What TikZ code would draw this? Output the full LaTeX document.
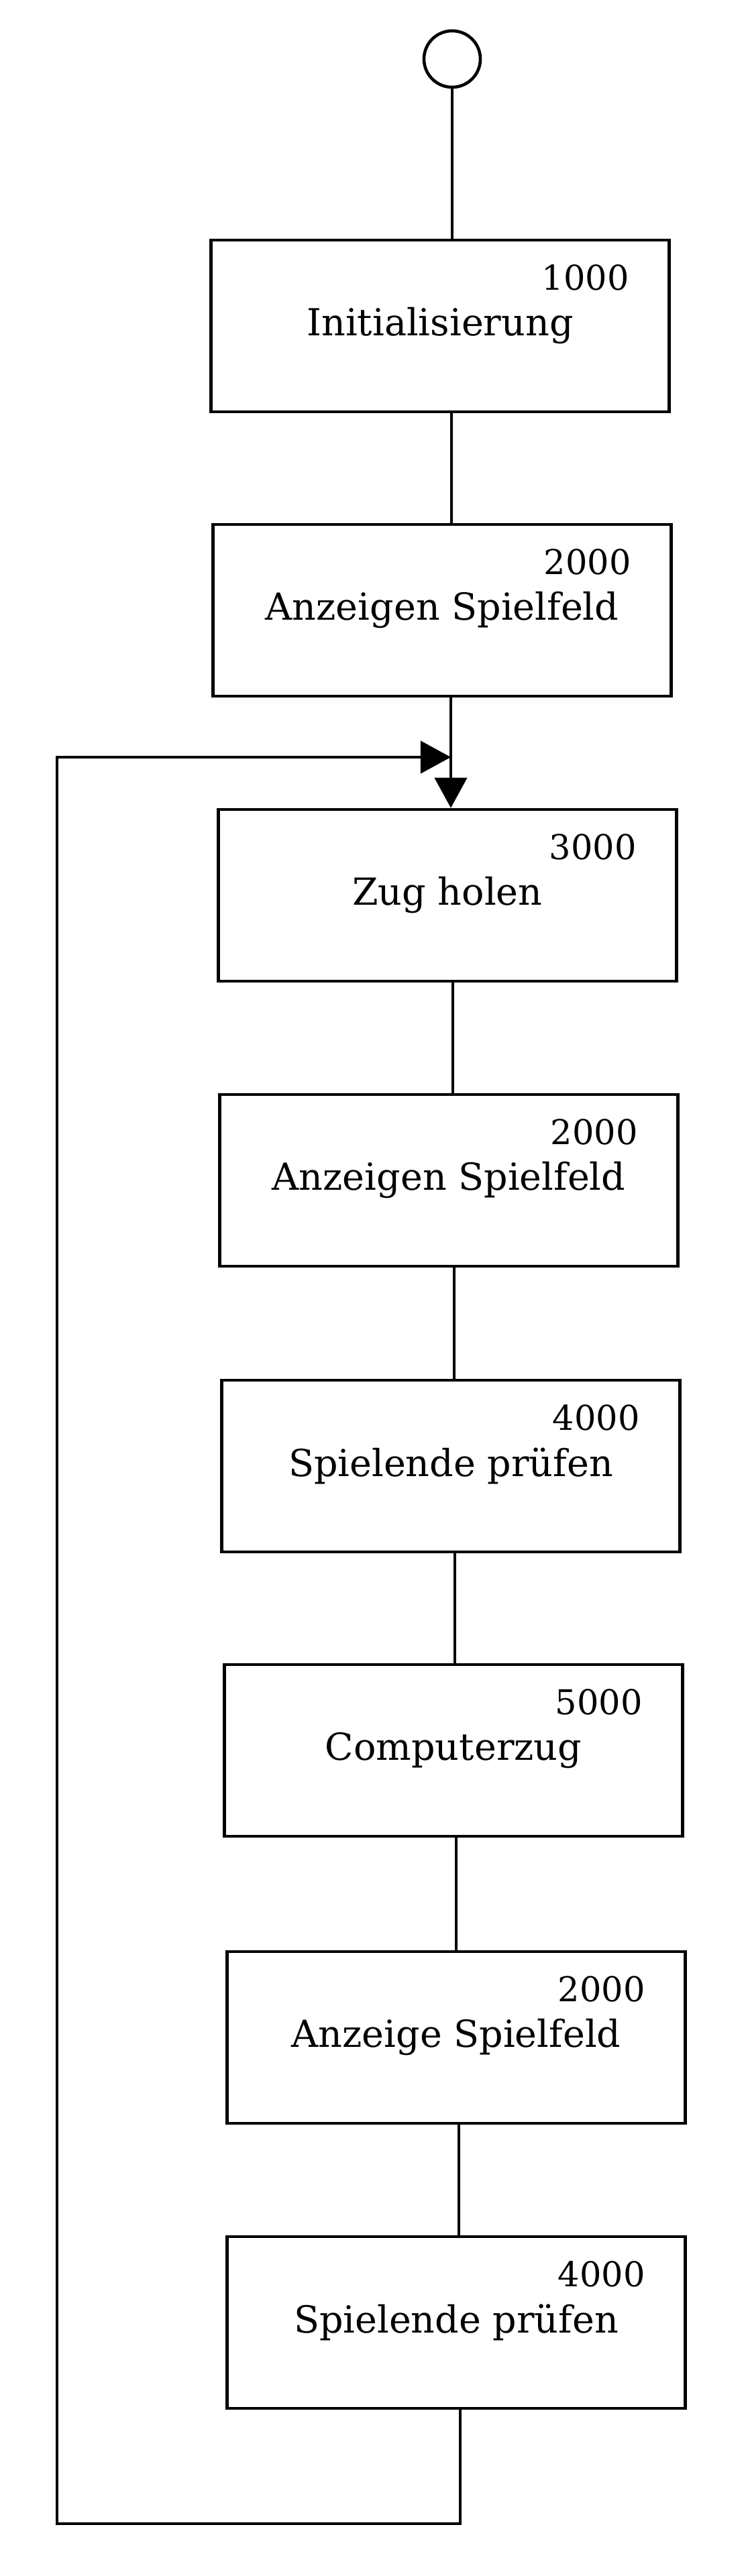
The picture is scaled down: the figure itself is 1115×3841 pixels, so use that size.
\documentclass[tikz,border=0pt]{standalone}
\usepackage{fontspec}
\setmainfont{DejaVu Serif}
\usetikzlibrary{calc,positioning,arrows.meta}

\begin{document}
\begin{tikzpicture}[x=0.01cm,y=-0.01cm,line width=1.3pt,
	procbox/.style={draw,rectangle,minimum width=6.83cm,minimum height=2.56cm,
		inner sep=0pt,font=\fontsize{15.8}{19}\selectfont},
	nummer/.style={anchor=east,inner sep=0pt,font=\fontsize{14.5}{17}\selectfont},
	pfeil/.style={-{Triangle[length=0.45cm,width=0.48cm]}}]

\useasboundingbox (0,0) rectangle (1115,3841);

% Start
\node[draw,circle,minimum size=0.84cm,inner sep=0pt] (start) at (674,88) {};

% Kaesten
\node[procbox] (init) at (656,486) {Initialisierung};
\node[nummer] (n1) at ([xshift=-0.6cm,yshift=-0.58cm]init.north east) {1000};

\node[procbox] (anzeige1) at (659,910) {Anzeigen Spielfeld};
\node[nummer] (n2) at ([xshift=-0.6cm,yshift=-0.58cm]anzeige1.north east) {2000};

\node[procbox] (zug) at (667,1335) {Zug holen};
\node[nummer] (n3) at ([xshift=-0.6cm,yshift=-0.58cm]zug.north east) {3000};

\node[procbox] (anzeige2) at (669,1760) {Anzeigen Spielfeld};
\node[nummer] (n4) at ([xshift=-0.6cm,yshift=-0.58cm]anzeige2.north east) {2000};

\node[procbox] (ende1) at (672,2186) {Spielende prüfen};
\node[nummer] (n5) at ([xshift=-0.6cm,yshift=-0.58cm]ende1.north east) {4000};

\node[procbox] (computer) at (676,2610) {Computerzug};
\node[nummer] (n6) at ([xshift=-0.6cm,yshift=-0.58cm]computer.north east) {5000};

\node[procbox] (anzeige3) at (680,3038) {Anzeige Spielfeld};
\node[nummer] (n7) at ([xshift=-0.6cm,yshift=-0.58cm]anzeige3.north east) {2000};

\node[procbox] (ende2) at (680,3463) {Spielende prüfen};
\node[nummer] (n8) at ([xshift=-0.6cm,yshift=-0.58cm]ende2.north east) {4000};

% Verbindungen
\draw (start) -- (start |- init.north);
\draw ([xshift=0.17cm]init.south) -- ([xshift=0.17cm]init.south |- anzeige1.north);
\draw[pfeil] ([xshift=0.13cm]anzeige1.south) -- ([xshift=0.13cm]anzeige1.south |- zug.north);
\draw ([xshift=0.08cm]zug.south) -- ([xshift=0.08cm]zug.south |- anzeige2.north);
\draw ([xshift=0.08cm]anzeige2.south) -- ([xshift=0.08cm]anzeige2.south |- ende1.north);
\draw ([xshift=0.06cm]ende1.south) -- ([xshift=0.06cm]ende1.south |- computer.north);
\draw ([xshift=0.04cm]computer.south) -- ([xshift=0.04cm]computer.south |- anzeige3.north);
\draw ([xshift=0.04cm]anzeige3.south) -- ([xshift=0.04cm]anzeige3.south |- ende2.north);

% Ruecksprung
\coordinate (tief) at (0,3763);
\coordinate (links) at (85,1129);
\coordinate (rueck) at ([xshift=0.13cm]anzeige1.south |- links);
\draw[pfeil] ([xshift=0.06cm]ende2.south) -- ([xshift=0.06cm]ende2.south |- tief) -| (links) -- (rueck);

\end{tikzpicture}
\end{document}
